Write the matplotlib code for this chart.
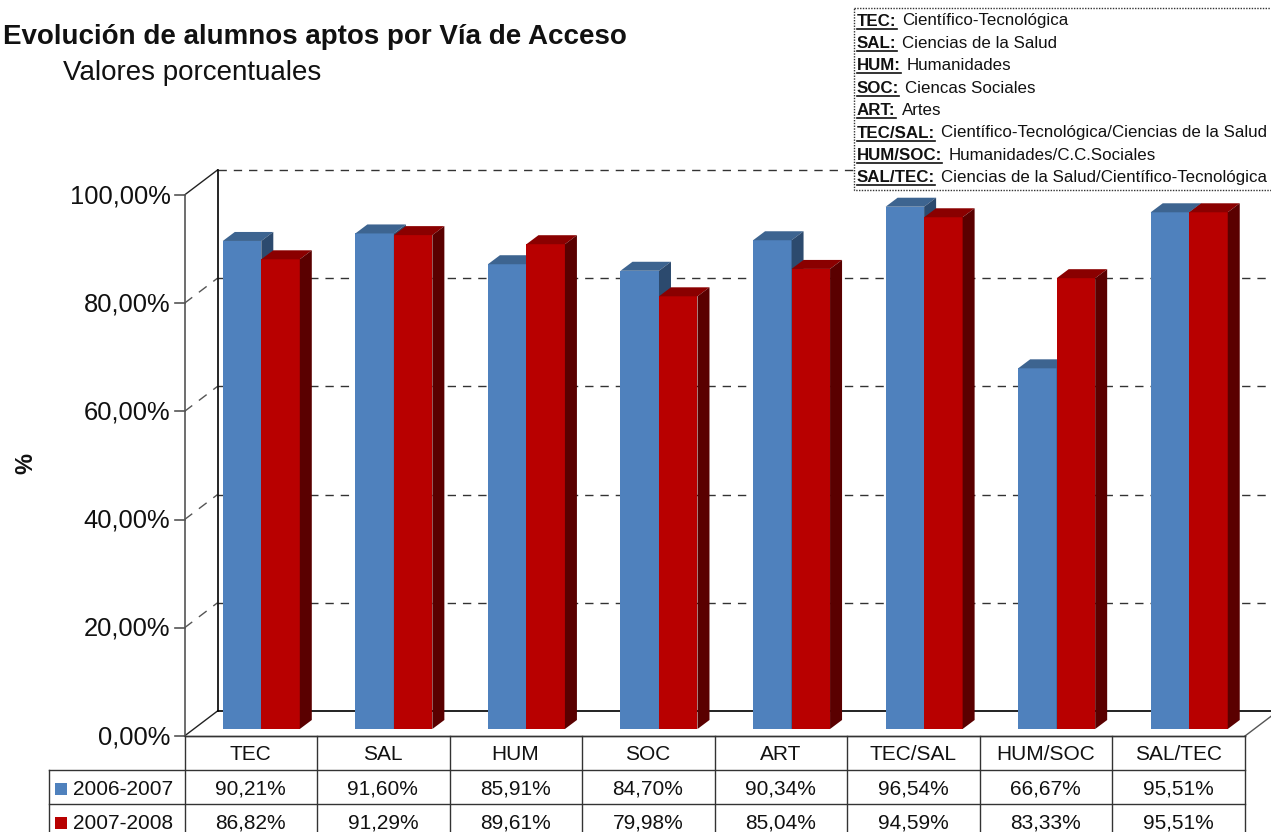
import matplotlib
matplotlib.use("Agg")
import matplotlib.pyplot as plt
from matplotlib.patches import Polygon, Rectangle

plt.rcParams['font.family'] = ['Liberation Sans', 'DejaVu Sans']

categories = ['TEC', 'SAL', 'HUM', 'SOC', 'ART', 'TEC/SAL', 'HUM/SOC', 'SAL/TEC']
values_0607 = [90.21, 91.60, 85.91, 84.70, 90.34, 96.54, 66.67, 95.51]
values_0708 = [86.82, 91.29, 89.61, 79.98, 85.04, 94.59, 83.33, 95.51]
labels_0607 = ['90,21%', '91,60%', '85,91%', '84,70%', '90,34%', '96,54%', '66,67%', '95,51%']
labels_0708 = ['86,82%', '91,29%', '89,61%', '79,98%', '85,04%', '94,59%', '83,33%', '95,51%']
series_names = ['2006-2007', '2007-2008']
y_ticks = [0, 20, 40, 60, 80, 100]
y_tick_labels = ['0,00%', '20,00%', '40,00%', '60,00%', '80,00%', '100,00%']
legend_keys = ['TEC:', 'SAL:', 'HUM:', 'SOC:', 'ART:', 'TEC/SAL:', 'HUM/SOC:', 'SAL/TEC:']
legend_names = ['Científico-Tecnológica', 'Ciencias de la Salud', 'Humanidades', 'Ciencas Sociales',
                'Artes', 'Científico-Tecnológica/Ciencias de la Salud', 'Humanidades/C.C.Sociales',
                'Ciencias de la Salud/Científico-Tecnológica']

W, H = 1271, 832
fig = plt.figure(figsize=(W / 100, H / 100), dpi=100)

# overlay in pixels, y going down like the picture
px = fig.add_axes([0, 0, 1, 1], zorder=5)
px.set_xlim(0, W)
px.set_ylim(H, 0)
px.axis('off')
px.patch.set_alpha(0)

# front plane of the chart
L, R, T, B = 184.5, 1245, 195, 736
ax = fig.add_axes([L / W, 1 - B / H, (R - L) / W, (B - T) / H], zorder=1)
ax.set_xlim(0, 8)
ax.set_ylim(0, 100)
ax.axis('off')

xu = (R - L) / 8.0   # px per category
yu = (B - T) / 100.0  # px per percent


def dx(p):
    return p / xu


def dy(p):
    return p / yu


# walls
wall_x, wall_y = 33, 25
for v in y_ticks:
    solid = v == 0
    ls = '-' if solid else (0, (6, 5))
    col = '#111111' if solid else '#333333'
    ax.plot([0, dx(wall_x)], [v, v + dy(wall_y)], color='#222222' if v in (0, 100) else '#555555',
            lw=1, ls='-' if v in (0, 100) else (0, (7, 6)), clip_on=False, zorder=1)
    ax.plot([dx(wall_x), 8 + dx(wall_x)], [v + dy(wall_y), v + dy(wall_y)], color=col, lw=1.3 if solid else 1,
            ls=ls, clip_on=False, zorder=1)
ax.plot([dx(wall_x), dx(wall_x)], [dy(wall_y), 100 + dy(wall_y)], color='black', lw=1.2, clip_on=False, zorder=1)
ax.plot([8, 8 + dx(wall_x)], [0, dy(wall_y)], color='#555555', lw=1, clip_on=False, zorder=1)
ax.plot([0, 0], [0, 100], color='#555555', lw=1.2, clip_on=False, zorder=1)
for v in y_ticks:
    ax.plot([-dx(10), 0], [v, v], color='#555555', lw=1.2, clip_on=False, zorder=1)
    ax.text(-dx(14), v - 0.2, y_tick_labels[v // 20], ha='right', va='center', fontsize=18.4, color='#111111')
ax.plot([0, 8], [0, 0], color='#333333', lw=1, clip_on=False, zorder=1)

# bars
bar_w = 38.5 / xu
bar_off = 38.3 / xu
base = dy(7)
depth_x, depth_y = dx(12), dy(9)
styles = [('#4F81BD', '#3D6490', '#2C4A6E'), ('#B80000', '#8A0000', '#5A0000')]


def bar3d(x, v, cols):
    front, top, side = cols
    ax.bar(x, v, bar_w, bottom=base, align='edge', color=front, lw=0, zorder=3)
    t = v + base
    ax.add_patch(Polygon([(x, t), (x + bar_w, t), (x + bar_w + depth_x, t + depth_y), (x + depth_x, t + depth_y)],
                         fc=top, ec='none', zorder=3, clip_on=False))
    ax.add_patch(Polygon([(x + bar_w, base), (x + bar_w + depth_x, base + depth_y),
                          (x + bar_w + depth_x, t + depth_y), (x + bar_w, t)],
                         fc=side, ec='none', zorder=3, clip_on=False))


for i in range(len(categories)):
    bar3d(i + bar_off, values_0607[i], styles[0])
    bar3d(i + bar_off + bar_w, values_0708[i], styles[1])

# data table
row_y = [736, 770, 804, 838]
left_x = 49
grid = '#333333'
px.plot([L, R], [row_y[0], row_y[0]], color=grid, lw=1)
px.plot([left_x, R], [row_y[1], row_y[1]], color=grid, lw=1)
px.plot([left_x, R], [row_y[2], row_y[2]], color=grid, lw=1)
px.plot([left_x, left_x], [row_y[1], H], color=grid, lw=1)
for i in range(len(categories) + 1):
    x = L + i * xu
    px.plot([x, x], [row_y[0], H], color=grid, lw=1)
for i, name in enumerate(categories):
    cx = L + (i + 0.5) * xu - 0.5
    px.text(cx, 754.5, name, ha='center', va='center', fontsize=15, color='#111111')
    px.text(cx, 789, labels_0607[i], ha='center', va='center', fontsize=15, color='#111111')
    px.text(cx, 823, labels_0708[i], ha='center', va='center', fontsize=15, color='#111111')
for j, name in enumerate(series_names):
    y = row_y[1] + 18.5 + j * 34
    px.add_patch(Rectangle((55, y - 6), 12, 12, fc=styles[j][0], ec='none'))
    px.text(73, y + 1, name, ha='left', va='center', fontsize=15, color='#111111')

# titles
px.text(3, 36.5, 'Evolución de alumnos aptos por Vía de Acceso', fontsize=20, fontweight='bold',
        ha='left', va='center', color='#111111')
px.text(63, 72.5, 'Valores porcentuales', fontsize=20, ha='left', va='center', color='#111111')
px.text(26, 464, '%', fontsize=17, fontweight='bold', rotation=90, ha='center', va='center', color='#111111')

# note box with the abbreviations
px.add_patch(Rectangle((854, 8), 430, 182, fc='white', ec='#333333', lw=1, ls=(0, (1, 1)), zorder=2))
renderer = fig.canvas.get_renderer()
for i in range(len(legend_keys)):
    y = 20 + i * 22.4
    key = px.text(857, y + 1, legend_keys[i], fontsize=12.2, fontweight='bold', ha='left', va='center',
                  color='#111111', zorder=3)
    box = key.get_window_extent(renderer)
    px.plot([857, box.x1], [y + 8.5, y + 8.5], color='#111111', lw=1.2, zorder=3)
    px.text(box.x1 + 6, y + 1, legend_names[i], fontsize=12.2, ha='left', va='center', color='#111111', zorder=3)

fig.savefig('out.png', dpi=100)
